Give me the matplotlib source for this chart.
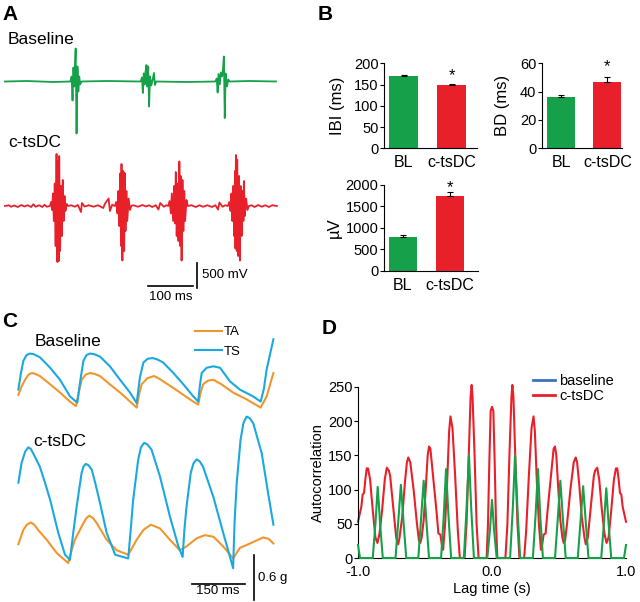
import matplotlib
matplotlib.use("Agg")
import matplotlib.pyplot as plt
from matplotlib.lines import Line2D

plt.rcParams['font.family'] = ['Liberation Sans', 'DejaVu Sans']

W, H = 640, 602

# ---- colours
green = '#17a04a'
red = '#e8202a'
orange = '#f0962e'
blue = '#1ba8e0'
legend_blue = '#3a73bf'

# ---- panel A: raw EMG bursts (time ms, voltage mV)
green_offset = 2490
green_burst1 = [(158, 0), (161, 100), (163, -380), (165, 280), (167, -100), (168, 200), (170, 660),
                (172, -1040), (174, 300), (176, -200), (178, 100), (180, -60), (183, 0)]
green_burst2 = [(316, 0), (319, 80), (321, -230), (323, 160), (325, -60), (327, 200), (329, 330),
                (331, -100), (333, 300), (335, -500), (337, 100), (340, -80), (343, 40),
                (346, 170), (348, -70), (351, 0)]
green_burst3 = [(484, 0), (487, 60), (489, -220), (491, 150), (494, -60), (496, 180), (499, 100),
                (501, 250), (503, 500), (505, -730), (507, 160), (510, -100), (513, 40), (516, 0)]
green_ends = [(11, 0), (60, 10), (120, -10), (240, 10), (420, -10), (560, 10), (620, 0)]

red_burst1 = [(112, 0), (115, 80), (117, -80), (119, 250), (121, -300), (123, 450), (125, -800),
              (127, 1040), (129, -1120), (130, 900), (132, -1100), (133, 1000), (135, -900),
              (137, 400), (139, -600), (141, 520), (143, -300), (145, 200), (147, -100),
              (150, 40), (153, 0)]
red_burst2 = [(258, 0), (261, 80), (264, -150), (266, 300), (268, -400), (270, 650), (272, -800),
              (273, 840), (275, -1090), (277, 700), (279, -900), (280, 660), (282, -500),
              (284, 300), (286, -300), (289, 150), (292, -80), (295, 0)]
red_burst3 = [(378, 0), (381, 100), (384, -150), (386, 250), (389, -300), (391, 400), (393, -350),
              (395, 680), (397, -600), (399, 450), (401, -700), (403, 890), (405, -800),
              (406, 600), (408, -1090), (410, 520), (412, -500), (414, 300), (416, -300),
              (419, 120), (422, 0)]
red_burst4 = [(512, 0), (515, 80), (518, -100), (520, 250), (522, -300), (524, 400), (526, -600),
              (528, 700), (529, -850), (530, 1020), (532, -900), (533, 930), (535, -1000),
              (537, 600), (539, -1090), (541, 400), (543, -600), (545, 300), (547, -300),
              (548, 500), (550, -200), (553, 150), (556, -80), (559, 0)]
red_background = [(11, 0), (20, 15), (25, -15), (32, 10), (40, -20), (48, 20), (55, -10), (62, 15),
                  (70, -20), (75, 35), (80, -15), (88, 15), (95, -20), (100, 25), (105, -15),
                  (160, 15), (168, -15), (175, 20), (182, -120), (184, 60), (190, -10), (200, 15),
                  (210, -15), (220, 15), (232, -40), (236, 50), (244, 150), (247, -100), (252, 25),
                  (300, 15), (310, -15), (320, 20), (328, -10), (335, 15), (342, -20), (350, 15),
                  (356, -70), (360, 60), (368, -15), (374, 15),
                  (430, 15), (440, -20), (448, 15), (456, -15), (466, 15), (476, -20), (484, 15),
                  (490, -70), (493, 70), (500, -15), (506, 15),
                  (565, 15), (572, -20), (580, 20), (588, -15), (596, 15), (604, -20), (612, 15),
                  (622, 0)]

# ---- panel B: bar summaries
conds = ['BL', 'c-tsDC']
ibi_mean = [170, 148]
ibi_err = [3, 4]
bd_mean = [36, 47]
bd_err = [1.5, 3]
uv_mean = [780, 1740]
uv_err = [60, 90]

# ---- panel C: accelerometer traces (time ms, g)
base_offset = 2.03
base_ts = [(1, 0.24), (8, 0.45), (15, 0.62), (24, 0.70), (34, 0.72), (45, 0.71), (62, 0.67),
           (91, 0.53), (119, 0.37), (147, 0.15), (164, 0.08), (168, 0.07), (176, 0.35),
           (185, 0.62), (194, 0.70), (204, 0.72), (216, 0.71), (232, 0.68), (260, 0.55),
           (289, 0.37), (317, 0.20), (336, 0.06), (345, 0.40), (355, 0.60), (367, 0.65),
           (381, 0.66), (395, 0.64), (411, 0.60), (440, 0.46), (468, 0.31), (496, 0.15),
           (510, 0.08), (515, 0.30), (520, 0.46), (534, 0.53), (553, 0.55), (572, 0.53),
           (600, 0.35), (628, 0.24), (665, 0.15), (687, 0.08), (696, 0.25), (704, 0.51),
           (723, 0.91)]
base_ta = [(1, 0.17), (10, 0.28), (20, 0.37), (30, 0.44), (39, 0.46), (48, 0.45), (62, 0.42),
           (91, 0.31), (119, 0.20), (147, 0.08), (164, 0.02), (172, 0.20), (180, 0.37),
           (192, 0.44), (204, 0.46), (216, 0.45), (232, 0.42), (260, 0.31), (289, 0.20),
           (317, 0.08), (336, 0.00), (343, 0.18), (350, 0.31), (366, 0.39), (385, 0.42),
           (398, 0.39), (411, 0.35), (440, 0.26), (468, 0.17), (496, 0.08), (510, 0.04),
           (517, 0.20), (524, 0.31), (538, 0.36), (553, 0.37), (576, 0.31), (609, 0.20),
           (647, 0.11), (687, 0.00), (704, 0.15), (723, 0.46)]
stim_ts = [(1, 1.03), (10, 1.29), (20, 1.44), (29, 1.50), (36, 1.48), (43, 1.42), (62, 1.24),
           (77, 1.02), (91, 0.80), (114, 0.36), (133, 0.07), (147, 0.00), (156, 0.35),
           (166, 0.71), (180, 1.16), (186, 1.25), (192, 1.28), (200, 1.26), (209, 1.20),
           (220, 1.00), (232, 0.76), (251, 0.36), (275, 0.07), (312, 0.02), (319, 0.40),
           (326, 0.80), (340, 1.33), (348, 1.50), (357, 1.56), (366, 1.54), (378, 1.47),
           (402, 1.11), (430, 0.58), (454, 0.18), (466, 0.04), (471, 0.40), (477, 0.71),
           (489, 1.16), (497, 1.29), (506, 1.34), (515, 1.31), (524, 1.24), (553, 0.84),
           (581, 0.36), (609, -0.11), (613, 0.50), (619, 1.02), (630, 1.60), (638, 1.82),
           (647, 1.91), (656, 1.89), (666, 1.82), (690, 1.42), (708, 0.89), (723, 0.47)]
stim_ta = [(1, 0.21), (15, 0.40), (25, 0.47), (36, 0.50), (46, 0.47), (57, 0.40), (81, 0.27),
           (110, 0.09), (142, -0.04), (150, 0.10), (161, 0.27), (185, 0.49), (194, 0.56),
           (202, 0.59), (212, 0.56), (223, 0.49), (251, 0.27), (279, 0.13), (312, 0.07),
           (336, 0.27), (355, 0.40), (376, 0.47), (402, 0.42), (430, 0.27), (458, 0.13),
           (477, 0.18), (506, 0.29), (529, 0.33), (553, 0.31), (581, 0.18), (609, 0.02),
           (628, 0.16), (657, 0.22), (694, 0.30), (710, 0.28), (723, 0.22)]

# ---- panel D: autocorrelation (lag s, value)
red_acf = [(-1.0, 53), (-0.975, 75), (-0.965, 93), (-0.955, 95), (-0.945, 115), (-0.935, 131),
           (-0.925, 131), (-0.91, 115), (-0.89, 70), (-0.87, 30), (-0.855, 22), (-0.84, 35),
           (-0.82, 70), (-0.80, 115), (-0.785, 132), (-0.77, 128), (-0.76, 120), (-0.74, 80),
           (-0.715, 30), (-0.70, 20), (-0.69, 30), (-0.67, 60), (-0.65, 110), (-0.635, 140),
           (-0.625, 147), (-0.61, 140), (-0.585, 100), (-0.56, 50), (-0.545, 25), (-0.535, 22),
           (-0.525, 30), (-0.51, 55), (-0.495, 100), (-0.48, 150), (-0.47, 163), (-0.46, 160),
           (-0.44, 120), (-0.415, 70), (-0.40, 36), (-0.385, 34), (-0.375, 20), (-0.365, 12),
           (-0.35, 50), (-0.335, 110), (-0.32, 185), (-0.31, 207), (-0.295, 190), (-0.275, 120),
           (-0.255, 40), (-0.24, 0), (-0.205, 0), (-0.19, 50), (-0.175, 140), (-0.16, 235),
           (-0.152, 253), (-0.145, 235), (-0.13, 150), (-0.115, 50), (-0.10, 0), (-0.04, 0),
           (-0.03, 50), (-0.02, 140), (-0.01, 215), (0.0, 221), (0.01, 215), (0.02, 140),
           (0.03, 50), (0.04, 0), (0.10, 0), (0.115, 50), (0.13, 150), (0.145, 235),
           (0.152, 253), (0.16, 235), (0.175, 140), (0.19, 50), (0.205, 0), (0.24, 0),
           (0.255, 40), (0.275, 120), (0.295, 190), (0.31, 207), (0.32, 185), (0.335, 110),
           (0.35, 50), (0.365, 12), (0.375, 20), (0.385, 34), (0.40, 36), (0.415, 70),
           (0.44, 120), (0.46, 160), (0.47, 163), (0.48, 150), (0.495, 100), (0.51, 55),
           (0.525, 30), (0.535, 22), (0.545, 25), (0.56, 50), (0.585, 100), (0.61, 140),
           (0.625, 147), (0.635, 140), (0.65, 110), (0.67, 60), (0.69, 30), (0.70, 20),
           (0.715, 30), (0.74, 80), (0.76, 120), (0.77, 128), (0.785, 132), (0.80, 115),
           (0.82, 70), (0.84, 35), (0.855, 22), (0.87, 30), (0.89, 70), (0.91, 115),
           (0.925, 131), (0.935, 131), (0.945, 115), (0.955, 95), (0.965, 93), (0.975, 75),
           (1.0, 53)]
green_acf = [(-1.0, 19), (-0.985, 0), (-0.89, 0), (-0.87, 50), (-0.853, 104), (-0.835, 50),
             (-0.815, 0), (-0.72, 0), (-0.70, 52), (-0.68, 107), (-0.66, 52), (-0.64, 0),
             (-0.55, 0), (-0.53, 55), (-0.51, 113), (-0.49, 55), (-0.47, 0), (-0.38, 0),
             (-0.36, 62), (-0.343, 130), (-0.325, 62), (-0.305, 0), (-0.21, 0), (-0.19, 72),
             (-0.172, 150), (-0.155, 72), (-0.135, 0), (-0.035, 0), (-0.015, 42), (0.0, 85),
             (0.015, 42), (0.035, 0), (0.135, 0), (0.155, 72), (0.172, 150), (0.19, 72),
             (0.21, 0), (0.305, 0), (0.325, 62), (0.343, 130), (0.36, 62), (0.38, 0),
             (0.47, 0), (0.49, 55), (0.51, 113), (0.53, 55), (0.55, 0), (0.64, 0), (0.66, 52),
             (0.68, 105), (0.70, 52), (0.72, 0), (0.815, 0), (0.835, 50), (0.853, 102),
             (0.87, 50), (0.89, 0), (0.985, 0), (1.0, 19)]


def ax_at(l, t, r, b):
    return fig.add_axes([l / W, 1 - b / H, (r - l) / W, (b - t) / H])


def ftext(x, y, s, **kw):
    fig.text(x / W, 1 - y / H, s, **kw)


def split(pairs):
    pairs = sorted(pairs)
    return [p[0] for p in pairs], [p[1] for p in pairs]


fig = plt.figure(figsize=(6.4, 6.02), dpi=100)

# panel letters
for letter, x, y in [('A', 2, 15), ('B', 318, 15), ('C', 2, 322), ('D', 322, 329)]:
    ftext(x, y, letter, fontsize=15, fontweight='bold', va='center', ha='left')

# ---------------- A
axA = ax_at(0, 25, 290, 300)
gt, gv = split(green_ends + green_burst1 + green_burst2 + green_burst3)
axA.plot(gt, [v + green_offset for v in gv], color=green, lw=1.3)
rt, rv = split(red_background + red_burst1 + red_burst2 + red_burst3 + red_burst4)
axA.plot(rt, rv, color=red, lw=1.3)
axA.plot([333, 433], [-1600, -1600], color='black', lw=1.2)
axA.plot([443, 443], [-1140, -1640], color='black', lw=1.2)
axA.set_xlim(0, 651.6)
axA.set_ylim(-1880, 3620)
axA.axis('off')
ftext(8, 39, 'Baseline', fontsize=12.5, va='center')
ftext(8, 143, 'c-tsDC', fontsize=12.5, va='center')
ftext(202, 275, '500 mV', fontsize=9.5, va='center')
ftext(171, 297, '100 ms', fontsize=9.5, va='center', ha='center')


# ---------------- B
def bar_panel(ax, vals, errs, ylim, yticks, ylabel, xlim, star_y, lpad):
    ax.bar([0, 1], vals, width=0.6, color=[green, red],
           yerr=[[0, 0], errs], capsize=2, error_kw=dict(elinewidth=0.8, capthick=0.8, ecolor='black'))
    ax.set_ylim(*ylim)
    ax.set_xlim(*xlim)
    ax.set_yticks(yticks)
    ax.set_xticks([0, 1])
    ax.set_xticklabels(conds, fontsize=11.5)
    ax.tick_params(axis='x', length=0, pad=5)
    ax.tick_params(axis='y', length=3, width=0.8, labelsize=10.5, pad=1)
    ax.set_ylabel(ylabel, fontsize=12, labelpad=lpad)
    for s in ['top', 'right']:
        ax.spines[s].set_visible(False)
    for s in ['left', 'bottom']:
        ax.spines[s].set_linewidth(0.8)
    ax.text(1, star_y, '*', ha='center', va='center', fontsize=12, clip_on=False)


axB1 = ax_at(384, 63.3, 476.7, 148.3)
bar_panel(axB1, ibi_mean, ibi_err, (0, 200), [0, 50, 100, 150, 200], 'IBI (ms)', (-0.41, 1.52), 170, 6)
axB2 = ax_at(541.7, 63.3, 621.7, 148.3)
bar_panel(axB2, bd_mean, bd_err, (0, 60), [0, 20, 40, 60], 'BD (ms)', (-0.42, 1.31), 58, 7)
axB3 = ax_at(384, 185, 478, 270.7)
bar_panel(axB3, uv_mean, uv_err, (0, 2000), [0, 500, 1000, 1500, 2000], 'µV', (-0.40, 1.59), 1950, 3)

# ---------------- C
axC = ax_at(0, 325, 290, 602)
t, v = split(base_ta)
axC.plot(t, [x + base_offset for x in v], color=orange, lw=1.5, label='TA')
t, v = split(base_ts)
axC.plot(t, [x + base_offset for x in v], color=blue, lw=1.5, label='TS')
t, v = split(stim_ta)
axC.plot(t, v, color=orange, lw=1.5)
t, v = split(stim_ts)
axC.plot(t, v, color=blue, lw=1.5)
axC.plot([492, 642], [-0.32, -0.32], color='black', lw=1.2)
axC.plot([668, 668], [0.07, -0.53], color='black', lw=1.2)
axC.set_xlim(-51, 770)
axC.set_ylim(-0.56, 3.13)
axC.axis('off')
axC.legend(loc='upper left', bbox_to_anchor=(195 / W, 1 - 326 / H), bbox_transform=fig.transFigure,
           frameon=False, fontsize=9.5, handlelength=2.05, handletextpad=0.15, labelspacing=0.55,
           borderpad=0, borderaxespad=0)
ftext(35, 342, 'Baseline', fontsize=12.5, va='center')
ftext(33, 441, 'c-tsDC', fontsize=12.5, va='center')
ftext(218, 591, '150 ms', fontsize=9.5, va='center', ha='center')
ftext(258, 578, '0.6 g', fontsize=9.5, va='center')

# ---------------- D
axD = ax_at(358, 387, 626, 558)
t, v = split(red_acf)
axD.plot(t, v, color=red, lw=1.5, clip_on=False, zorder=2)
t, v = split(green_acf)
axD.plot(t, v, color=green, lw=1.5, clip_on=False, zorder=3)
axD.set_xlim(-1.0, 1.0)
axD.set_ylim(0, 250)
axD.set_xticks([-1.0, 0.0, 1.0])
axD.set_xticklabels(['-1.0', '0.0', '1.0'])
axD.set_yticks([0, 50, 100, 150, 200, 250])
axD.tick_params(axis='x', length=0, labelsize=10.5, pad=5)
axD.tick_params(axis='y', length=3, width=0.8, labelsize=10.5, pad=1)
axD.set_xlabel('Lag time (s)', fontsize=10.5, labelpad=2)
axD.set_ylabel('Autocorrelation', fontsize=10.5, labelpad=2)
for s in ['top', 'right']:
    axD.spines[s].set_visible(False)
for s in ['left', 'bottom']:
    axD.spines[s].set_linewidth(0.8)
handles = [Line2D([], [], color=legend_blue, lw=2), Line2D([], [], color=red, lw=2)]
axD.legend(handles, ['baseline', 'c-tsDC'], loc='upper left',
           bbox_to_anchor=(533 / W, 1 - 374 / H), bbox_transform=fig.transFigure,
           frameon=False, fontsize=10.5, handlelength=1.5, handletextpad=0.3, labelspacing=0.1,
           borderpad=0, borderaxespad=0)

fig.savefig('out.png', dpi=100)
